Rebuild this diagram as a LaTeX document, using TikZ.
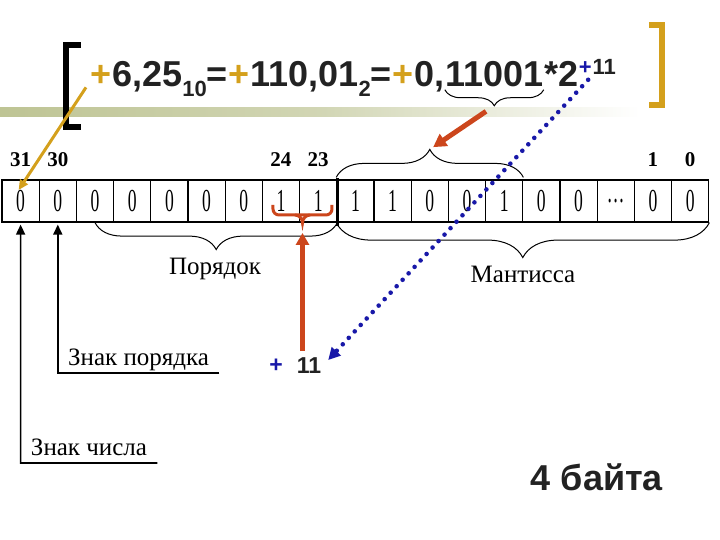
\documentclass[tikz,border=0pt]{standalone}
\usepackage{fontspec}
\setmainfont{Liberation Serif}
\setsansfont{Liberation Sans}
\usetikzlibrary{arrows.meta, decorations.pathreplacing, calc}

\definecolor{gold}{RGB}{212,160,28}
\definecolor{rust}{RGB}{204,70,28}
\definecolor{navy}{RGB}{24,24,168}
\definecolor{ink}{RGB}{34,34,34}
\definecolor{band}{RGB}{190,196,148}

\newcommand{\lo}[1]{\raisebox{-0.27em}{\fontsize{11}{11}\selectfont #1}}
\newcommand{\narrow}[1]{\scalebox{0.55}[1]{#1}}

\tikzset{
  cell/.style={draw, line width=0.6pt, minimum width=18.6pt, minimum height=21pt, inner sep=0pt, font=\fontsize{16}{16}\selectfont},
  bitno/.style={font=\bfseries\fontsize{10.5}{10.5}\selectfont},
  frm/.style={inner sep=0pt, anchor=base west, text=ink, font=\sffamily\bfseries\fontsize{18}{18}\selectfont},
  lbl/.style={font=\fontsize{12.5}{12.5}\selectfont},
  sign/.style={lbl, anchor=south west, inner xsep=5pt, inner ysep=1pt, text depth=0.25em},
  curly/.style={decorate, decoration={brace, amplitude=#1}, line width=0.5pt},
}

\begin{document}
\begin{tikzpicture}[x=0.5pt, y=-0.5pt, >=Stealth]
    \useasboundingbox (0,0) rectangle (720,540);
    % полоса под заголовком
    \shade[left color=band, right color=white, middle color=band!70] (0,108) rectangle (640,117);
    % скобки
    \draw[line width=3pt] (81,45) -- (66,45) -- (66,127) -- (81,127);
    \draw[gold, line width=2.8pt] (649,25) -- (662,25) -- (662,105) -- (649,105);

    % формула
    \node[frm, text=gold] (p1) at (90,87) {+};
    \node[frm] (n1) at (p1.base east) {6,25\lo{10}=};
    \node[frm, text=gold] (p2) at (n1.base east) {+};
    \node[frm] (n2) at (p2.base east) {110,01\lo{2}=};
    \node[frm, text=gold] (p3) at (n2.base east) {+};
    \node[frm] (n3) at (p3.base east) {0,};
    \node[frm] (mant) at (n3.base east) {11001};
    \node[frm] (n4) at (mant.base east) {*2};
    \node[frm, text=navy, font=\sffamily\bfseries\fontsize{11}{11}\selectfont] (esg) at ([yshift=6pt]n4.base east) {+};
    \node[frm, font=\sffamily\bfseries\fontsize{11}{11}\selectfont] (eval) at (esg.base east) {11};

    % ячейки
    \foreach \v [count=\i from 0] in {0,0,0,0,0,0,0,1,1,1,1,0,0,1,0,0,\ldots,0,0}
        \node[cell] (c\i) at ({2+37.2*(\i+0.5)},201) {\narrow{\v}};
    \draw[line width=1.2pt] ([yshift=0.5pt]c8.north east) -- ([yshift=-1.5pt]c8.south east);

    % номера битов
    \foreach \k/\t in {0/31, 1/30, 7/24, 8/23, 17/1, 18/0}
        \node[bitno] (b\t) at ([yshift=10pt]c\k.north) {\t};

    % фигурные скобки
    \draw[curly=14pt] ([yshift=1pt]c9.north west) -- ([yshift=1pt]c13.north east);
    \draw[curly=13.5pt] (c8.south east) -- (c2.south);
    \draw[curly=17.5pt] (c18.south east) -- (c9.south west);
    \draw[curly=8pt] ([yshift=-1pt]mant.south east) -- ([yshift=-1pt]mant.south west);
    \coordinate (rtip) at (302.5,223);
    \draw[rust, line width=1.5pt, rounded corners=3pt] (273,205) -- (273,215) -- (332,215) -- (332,205);
    \draw[rust, line width=1.5pt] (295,215) to[out=0, in=90] (rtip) to[out=90, in=180] (310,215);

    \node[lbl] (por) at (215,269) {Порядок};
    \node[lbl] (mts) at (523,274) {Мантисса};

    % знаки
    \node[sign] (zc) at (20.6,463) {Знак числа};
    \node[sign] (zp) at (57.8,373) {Знак порядка};
    \draw[line width=0.8pt, -{Triangle[length=5pt,width=4.5pt]}, shorten >=1pt]
        (zc.south east) -- (zc.south west) -- (c0.south);
    \draw[line width=0.8pt, -{Triangle[length=5pt,width=4.5pt]}, shorten >=1pt]
        (zp.south east) -- (zp.south west) -- (c1.south);

    \node[font=\sffamily\bfseries\fontsize{11.5}{11.5}\selectfont, text=navy] (esig) at (276,366) {+};
    \node[font=\sffamily\bfseries\fontsize{11.5}{11.5}\selectfont, text=ink] (e11) at (309,366) {11};
    \node[font=\sffamily\bfseries\fontsize{18}{18}\selectfont, text=ink] (bytes) at (597,477) {4 байта};

    % стрелки
    \coordinate (ftip) at ($(mant.south)+(0,18)$);
    \coordinate (mtip) at ($(c9.north west)!0.5!(c13.north east)+(0,-30)$);
    \coordinate (s0) at ([shift={(-1pt,5.5pt)}]c0.center);
    \draw[rust, line width=2.5pt, -{Triangle[length=6.5pt,width=7pt]}, shorten <=5pt, shorten >=2pt] (ftip) -- (mtip);
    \draw[gold, line width=1.5pt, -{Triangle[length=5pt,width=4.5pt]}] ([xshift=-2pt]p1.south west) -- (s0);
    \draw[rust, line width=2.2pt, -{Triangle[length=6pt,width=6.5pt]}, shorten >=5pt] (rtip |- e11.north) -- (rtip);
    \draw[navy, line width=2.3pt, line cap=round, dash pattern=on 0pt off 4.4pt,
        -{Triangle[length=6pt,width=6pt]}, shorten <=3pt] (esg.south east) -- ([yshift=3pt]e11.east);
\end{tikzpicture}
\end{document}
